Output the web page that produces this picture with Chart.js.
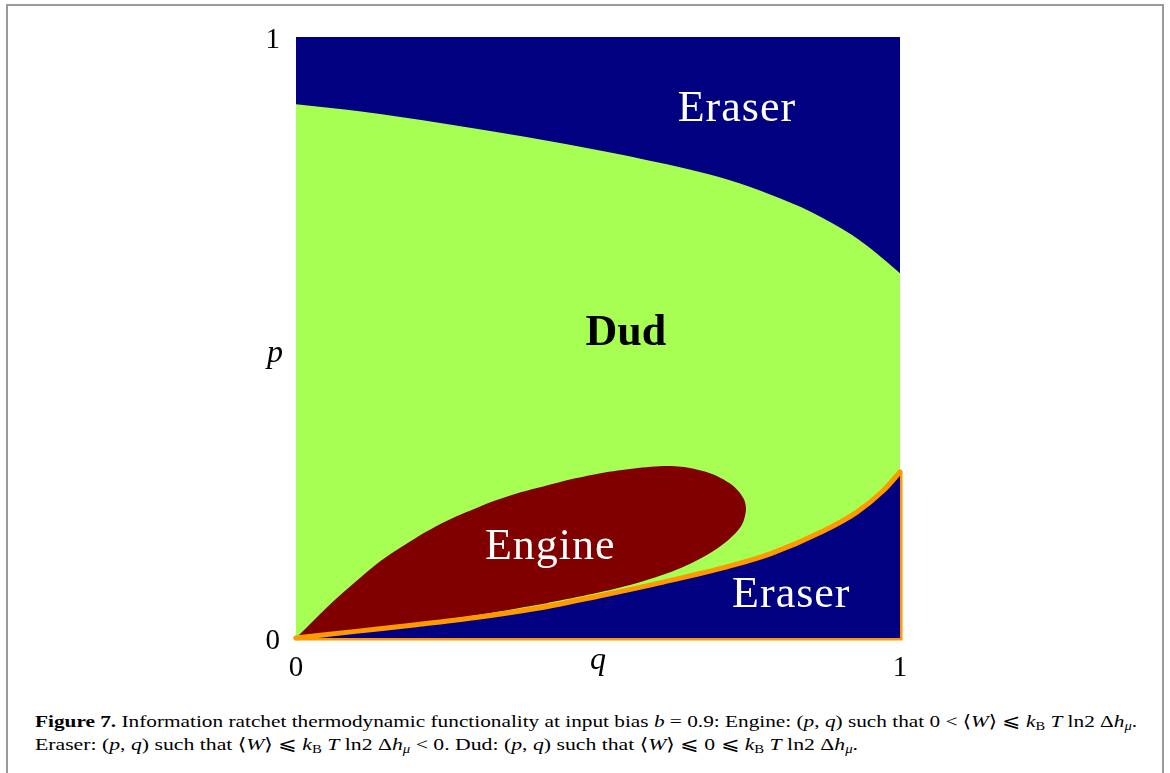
<!DOCTYPE html>
<html>
<head>
<meta charset="utf-8">
<script src="https://cdn.jsdelivr.net/npm/chart.js@4.4.1/dist/chart.umd.min.js"></script>
<style>
  html, body { margin:0; padding:0; background:#fff; width:1170px; height:773px; overflow:hidden; }
  #frame { position:absolute; left:6px; top:4px; width:1154px; height:800px;
           border-top:2px solid #9a9a9a; border-left:2px solid #9a9a9a; border-right:2px solid #9a9a9a; }
  #wrap { position:absolute; left:0; top:0; width:1170px; height:690px; }
  .cap { position:absolute; left:35px; font-family:"Liberation Serif","DejaVu Serif",serif; font-size:17.5px;
         line-height:20px; white-space:nowrap; color:#000; transform-origin:0 0; }
  .cap sub { font-size:0.68em; vertical-align:-0.28em; line-height:0; }
  .cap i { font-style:italic; }
</style>
</head>
<body>
<div id="frame"></div>
<div id="wrap"><canvas id="c" width="1170" height="690"></canvas></div>
<div class="cap" id="l1" style="top:711px"><b>Figure 7.</b> Information ratchet thermodynamic functionality at input bias <i>b</i> = 0.9: Engine: (<i>p</i>, <i>q</i>) such that 0 &lt; ⟨<i>W</i>⟩ ⩽ <i>k</i><sub>B</sub> <i>T</i> ln2 Δ<i>h</i><sub><i>μ</i></sub>.</div>
<div class="cap" id="l2" style="top:734px">Eraser: (<i>p</i>, <i>q</i>) such that ⟨<i>W</i>⟩ ⩽ <i>k</i><sub>B</sub> <i>T</i> ln2 Δ<i>h</i><sub><i>μ</i></sub> &lt; 0. Dud: (<i>p</i>, <i>q</i>) such that ⟨<i>W</i>⟩ ⩽ 0 ⩽ <i>k</i><sub>B</sub> <i>T</i> ln2 Δ<i>h</i><sub><i>μ</i></sub>.</div>
<script>
// ---- Data ----
// Upper boundary: Dud (below) / Eraser (above)
const qUpper = [0, 0.108, 0.244, 0.379, 0.514, 0.582, 0.650, 0.717, 0.785, 0.853, 0.920, 0.954, 1.0];
const pUpper = [0.888, 0.876, 0.856, 0.834, 0.809, 0.795, 0.780, 0.762, 0.738, 0.709, 0.671, 0.646, 0.607];
// Lower boundary (orange): Dud (above) / Eraser (below)
const qLower = [0, 0.099, 0.199, 0.298, 0.397, 0.498, 0.608, 0.719, 0.785, 0.873, 0.928, 0.972, 1.0];
const pLower = [0, 0.011, 0.022, 0.034, 0.049, 0.069, 0.093, 0.120, 0.140, 0.178, 0.209, 0.245, 0.276];
// Engine region outline: top edge (left -> right)
const qEngineTop = [0, 0.033, 0.066, 0.099, 0.132, 0.166, 0.199, 0.232, 0.265, 0.298, 0.331, 0.364, 0.397, 0.442, 0.498, 0.553, 0.608, 0.652, 0.691, 0.724, 0.741, 0.745];
const pEngineTop = [0, 0.033, 0.065, 0.094, 0.122, 0.146, 0.167, 0.186, 0.202, 0.216, 0.229, 0.240, 0.249, 0.261, 0.273, 0.281, 0.286, 0.283, 0.272, 0.253, 0.232, 0.213];
// Engine region outline: bottom edge (right -> left)
const qEngineBottom = [0.738, 0.719, 0.685, 0.636, 0.581, 0.525, 0.470, 0.415, 0.387, 0.298, 0.199, 0.099, 0];
const pEngineBottom = [0.188, 0.166, 0.141, 0.116, 0.0965, 0.081, 0.069, 0.058, 0.053, 0.038, 0.025, 0.013, 0];
// Region labels
const regionNames = ["Eraser", "Dud", "Engine", "Eraser"];
const regionQ = [0.730, 0.546, 0.421, 0.820];
const regionP = [0.880, 0.507, 0.150, 0.071];
const regionBold = [false, true, false, false];
const regionColor = ["#ffffff", "#000000", "#ffffff", "#ffffff"];
// Ticks & axis titles
const xTicks = [0, 1];
const yTicks = [0, 1];
const xTitle = "q";
const yTitle = "p";

const NAVY = "#000080", GREEN = "#a6ff52", MAROON = "#800000", ORANGE = "#ff9900";
const pts = (qs, ps) => qs.map((q, i) => ({ x: q, y: ps[i] }));
const last = pLower.length - 1;

const labelPlugin = {
  id: "labels",
  afterDatasetsDraw(chart) {
    const { ctx, scales: { x, y } } = chart;
    ctx.save();
    ctx.textAlign = "center";
    ctx.textBaseline = "middle";
    regionNames.forEach((t, i) => {
      ctx.font = (regionBold[i] ? "bold " : "") + "44px 'Liberation Serif', serif";
      ctx.fillStyle = regionColor[i];
      try { ctx.letterSpacing = regionBold[i] ? "0px" : "1px"; } catch (e) {}
      ctx.fillText(t, x.getPixelForValue(regionQ[i]), y.getPixelForValue(regionP[i]));
    });
    try { ctx.letterSpacing = "0px"; } catch (e) {}
    ctx.fillStyle = "#000";
    ctx.font = "italic 32px 'Liberation Serif', serif";
    ctx.textBaseline = "alphabetic";
    ctx.fillText(xTitle, x.getPixelForValue(0.5), y.bottom + 31);
    ctx.fillText(yTitle, x.left - 21, (y.top + y.bottom) / 2 + 24);
    ctx.restore();
  }
};

new Chart(document.getElementById("c"), {
  type: "line",
  data: {
    datasets: [
      { // orange boundary curve, Eraser fill beneath
        data: pts(qLower, pLower), borderColor: ORANGE, borderWidth: 5, backgroundColor: NAVY,
        fill: "origin", cubicInterpolationMode: "monotone", pointRadius: 0, order: 0, clip: false,
        borderCapStyle: "round"
      },
      { // orange frame: right edge and bottom edge
        data: [{ x: qLower[last], y: pLower[last] }, { x: qLower[last], y: 0 }, { x: 0, y: 0 }],
        borderColor: ORANGE, borderWidth: 5, fill: false, tension: 0, pointRadius: 0, order: 1, clip: false,
        borderJoinStyle: "miter", borderCapStyle: "round"
      },
      { // Engine region
        data: pts(qEngineTop, pEngineTop).concat(pts(qEngineBottom, pEngineBottom)),
        borderColor: "rgba(0,0,0,0)", borderWidth: 0, backgroundColor: MAROON,
        fill: "shape", tension: 0.3, pointRadius: 0, order: 2
      },
      { // Dud region (below upper boundary)
        data: pts(qUpper, pUpper), borderColor: "rgba(0,0,0,0)", borderWidth: 0, backgroundColor: GREEN,
        fill: "origin", cubicInterpolationMode: "monotone", pointRadius: 0, order: 3
      },
      { // Eraser background (whole square)
        data: [{ x: 0, y: 1 }, { x: 1, y: 1 }], borderColor: "rgba(0,0,0,0)", borderWidth: 0, backgroundColor: NAVY,
        fill: "origin", tension: 0, pointRadius: 0, order: 4
      }
    ]
  },
  options: {
    responsive: false,
    animation: false,
    events: [],
    layout: { padding: { left: 0, right: 270, top: 37, bottom: 0 } },
    plugins: { legend: { display: false }, tooltip: { enabled: false } },
    scales: {
      x: {
        type: "linear", min: 0, max: 1,
        afterBuildTicks: (s) => { s.ticks = xTicks.map(v => ({ value: v })); },
        afterFit: (s) => { s.height = 52; },
        grid: { display: false, drawTicks: false },
        border: { display: false },
        ticks: { padding: 13, color: "#000", font: { family: "'Liberation Serif', serif", size: 29 },
                 callback: (v) => String(v), maxRotation: 0, autoSkip: false }
      },
      y: {
        type: "linear", min: 0, max: 1,
        afterBuildTicks: (s) => { s.ticks = yTicks.map(v => ({ value: v })); },
        afterFit: (s) => { s.width = 296; },
        grid: { display: false, drawTicks: false },
        border: { display: false },
        ticks: { padding: 16, labelOffset: 3, color: "#000", font: { family: "'Liberation Serif', serif", size: 29 },
                 callback: (v) => String(v) }
      }
    }
  },
  plugins: [labelPlugin]
});

// fit caption lines to the reference widths
const capTargets = { l1: 1102, l2: 823 };
Object.keys(capTargets).forEach(id => {
  const el = document.getElementById(id);
  const w = el.getBoundingClientRect().width;
  if (w > 0) el.style.transform = "scaleX(" + (capTargets[id] / w) + ")";
});
</script>
</body>
</html>
